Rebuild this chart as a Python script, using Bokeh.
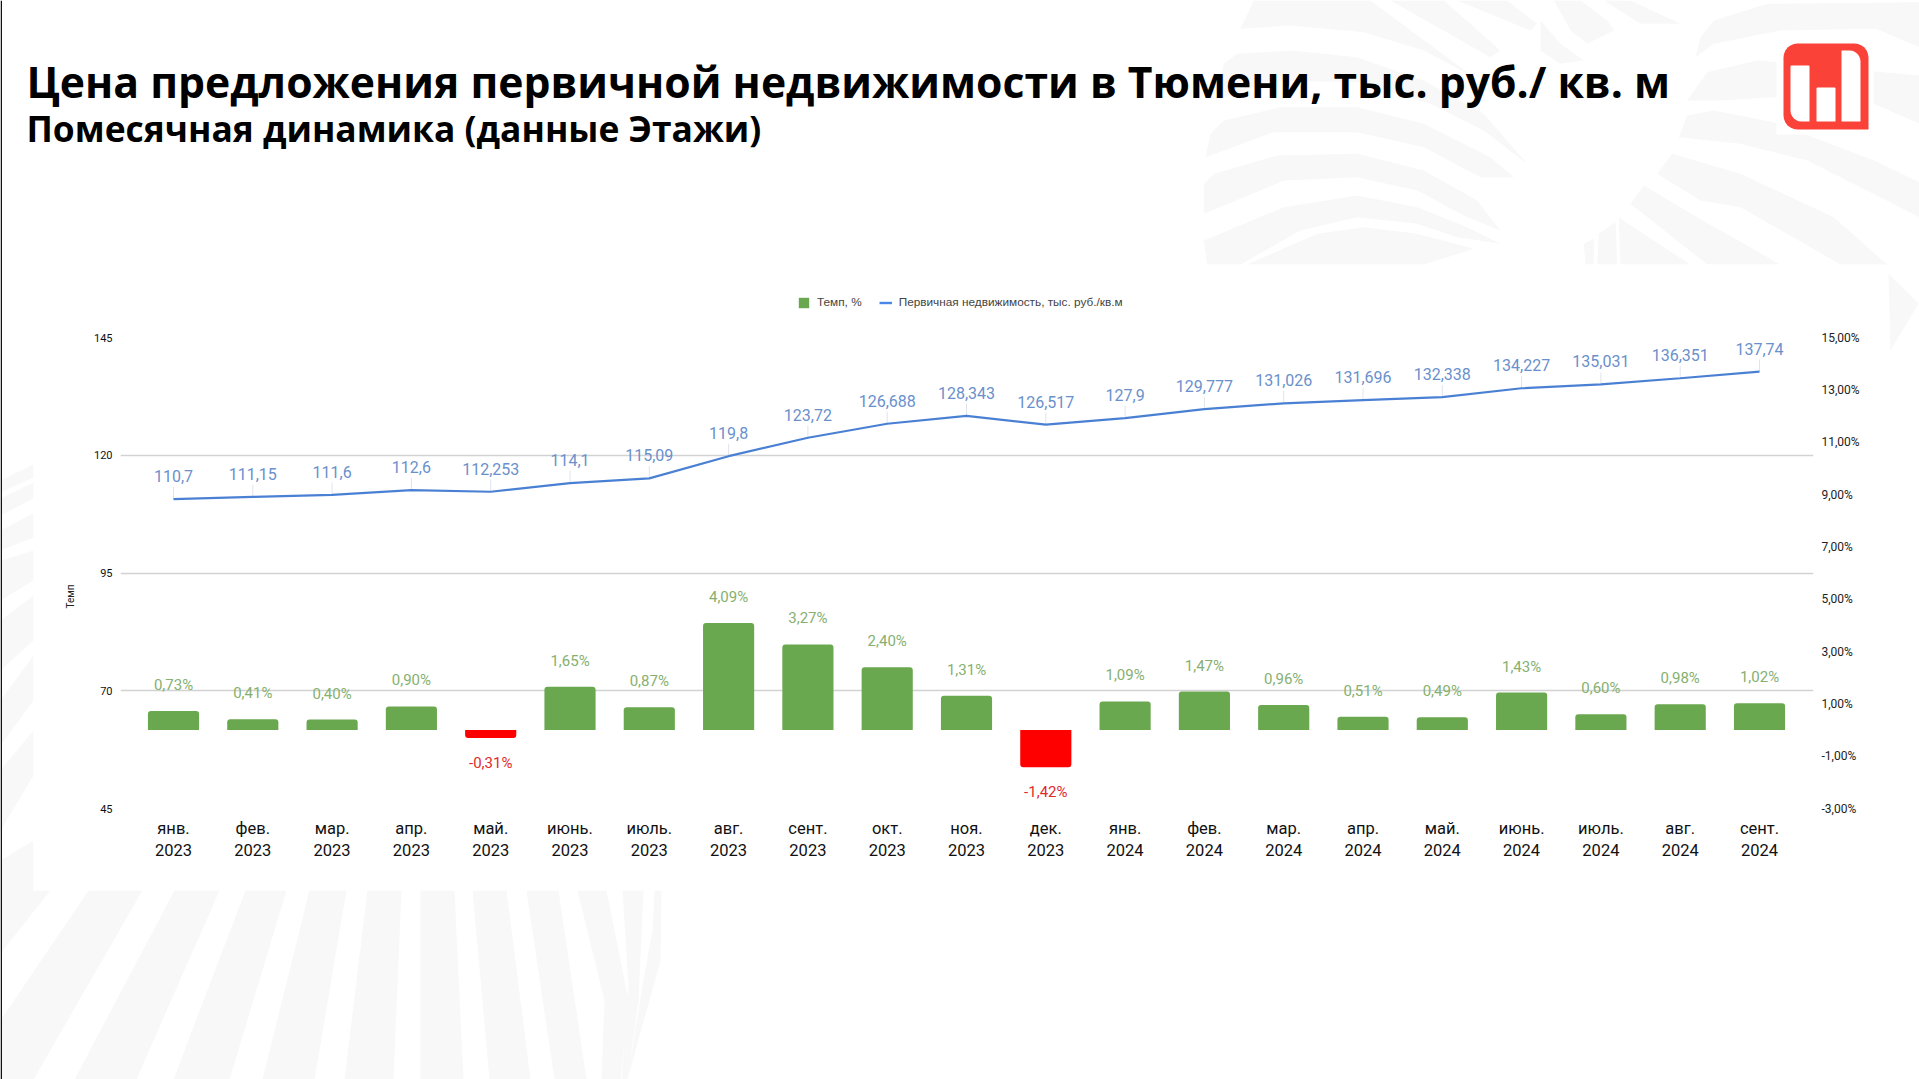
import math
from bokeh.plotting import figure
from bokeh.layouts import column
from bokeh.embed import file_html
from bokeh.resources import INLINE
from bokeh.core.properties import value
from bokeh.models import (ColumnDataSource, FixedTicker, LinearAxis, Range1d, Legend, LegendItem)

# ---- data ----
months = ["янв.", "фев.", "мар.", "апр.", "май.", "июнь.", "июль.", "авг.", "сент.", "окт.", "ноя.", "дек.",
          "янв.", "фев.", "мар.", "апр.", "май.", "июнь.", "июль.", "авг.", "сент."]
years = [2023] * 12 + [2024] * 9
price = [110.7, 111.15, 111.6, 112.6, 112.253, 114.1, 115.09, 119.8, 123.72, 126.688, 128.343, 126.517,
         127.9, 129.777, 131.026, 131.696, 132.338, 134.227, 135.031, 136.351, 137.74]
rate = [0.73, 0.41, 0.40, 0.90, -0.31, 1.65, 0.87, 4.09, 3.27, 2.40, 1.31, -1.42,
        1.09, 1.47, 0.96, 0.51, 0.49, 1.43, 0.60, 0.98, 1.02]
left_ticks = [45, 70, 95, 120, 145]
right_ticks = [-3, -1, 1, 3, 5, 7, 9, 11, 13, 15]

# ---- layout (page pixels) ----
W, H = 1919, 1079
FL, FR, FT, FB = 120, 1813, 337, 808
X0, STEP = 173.0, 79.3
GREEN, RED, BLUE = "#6aa84f", "#ff0000", "#4a80d4"
PALE = "#f8f8f8"

# ---- backdrop figure: its frame is the whole page, in page pixels ----
bg = figure(width=W, height=H, output_backend="svg", toolbar_location=None, frame_align=False,
            x_range=Range1d(0, W), y_range=Range1d(H, 0), min_border=0,
            x_axis_location=None, y_axis_location=None,
            background_fill_color="white", border_fill_color="white", outline_line_color=None)
bg.grid.visible = False


def poly(pts, color=PALE):
    bg.patch([a for a, _ in pts], [b for _, b in pts], fill_color=color, line_color=None)


def z11(pts):
    return [(1190 + a / 3, b / 3) for a, b in pts]


def z12(pts):
    return [(1540 + a / 3, b / 3) for a, b in pts]


def rounded(x0, y0, x1, y1, radii):
    pts = []
    for cx, cy, r, a0 in ((x0 + radii[0], y0 + radii[0], radii[0], 180), (x1 - radii[1], y0 + radii[1], radii[1], 270),
                          (x1 - radii[2], y1 - radii[2], radii[2], 0), (x0 + radii[3], y1 - radii[3], radii[3], 90)):
        for k in range(7):
            t = math.radians(a0 + 15 * k)
            pts.append((cx + r * math.cos(t), cy + r * math.sin(t)))
    return pts


for band in [
    [(150, 85), (190, 0), (540, 0), (850, 230), (700, 150), (520, 95), (300, 75)],
    [(100, 190), (140, 160), (300, 150), (500, 170), (700, 240), (880, 340), (1010, 490), (880, 390), (720, 310), (500, 245), (240, 240), (75, 300)],
    [(60, 400), (100, 360), (270, 320), (500, 320), (700, 370), (900, 470), (970, 530), (870, 530), (700, 440), (500, 395), (250, 395), (45, 470)],
    [(40, 550), (70, 520), (260, 465), (500, 460), (700, 510), (860, 600), (930, 690), (830, 650), (680, 570), (500, 530), (280, 540), (40, 640)],
    [(40, 720), (280, 620), (500, 585), (680, 620), (830, 680), (930, 730), (800, 710), (680, 670), (500, 650), (330, 690), (150, 792), (50, 792)],
    [(170, 792), (380, 700), (520, 680), (680, 700), (850, 745), (700, 792)],
    [(600, 0), (760, 0), (930, 150), (900, 170)],
    [(800, 0), (950, 0), (1040, 70), (1020, 90)],
]:
    poly(z11(band))
for band in [
    [(0, 60), (60, 130), (130, 180), (60, 190), (0, 150)],
    [(40, 0), (120, 0), (200, 60), (220, 90), (140, 130), (90, 90)],
    [(190, 0), (270, 0), (420, 70), (300, 70)],
    [(465, 170), (480, 110), (520, 60), (680, 10), (1137, 5), (1137, 140), (1005, 85), (720, 90), (520, 130)],
    [(440, 300), (500, 215), (650, 180), (1137, 225), (1137, 370), (1000, 310), (700, 290), (540, 300)],
    [(415, 410), (440, 345), (520, 330), (700, 365), (1000, 480), (1137, 545), (1137, 650), (800, 480), (600, 430)],
    [(350, 520), (395, 460), (600, 520), (880, 650), (1040, 792), (900, 792), (600, 620), (480, 600)],
    [(270, 610), (310, 555), (470, 650), (720, 792), (500, 792)],
    [(235, 650), (340, 720), (450, 792), (240, 792)],
    [(175, 700), (225, 665), (230, 792), (170, 792)],
    [(130, 730), (160, 715), (160, 792), (135, 792)],
]:
    poly(z12(band))
poly([(1888, 273), (1918, 303), (1890, 350)])
for band in [
    [(0, 480), (33, 464), (33, 477), (0, 492)], [(0, 498), (33, 482), (33, 498), (0, 515)],
    [(0, 530), (33, 513), (33, 537), (0, 550)], [(0, 560), (33, 550), (33, 580), (0, 600)],
    [(0, 620), (33, 595), (33, 640), (0, 670)], [(0, 700), (33, 655), (33, 700), (0, 745)],
    [(0, 770), (33, 730), (33, 775), (0, 830)], [(0, 860), (33, 840), (33, 890), (0, 950)],
]:
    poly(band)
poly([(0, 890), (50, 890), (0, 953)])
poly([(88, 890), (142, 890), (33, 1079), (0, 1079), (0, 1020)])
for top_l, top_r, bot_l, bot_r in [(174, 219, 74, 136), (245, 286, 173, 229), (309, 346, 262, 314), (367, 401, 344, 393),
                                   (420, 454, 420, 463), (472, 506, 489, 530), (526, 558, 554, 586)]:
    poly([(top_l, 890), (top_r, 890), (bot_r, 1079), (bot_l, 1079)])
poly([(577, 890), (606, 890), (628, 1000), (620, 1079), (601, 1079), (604, 1000)])
poly([(622, 890), (643, 890), (638, 1000), (627, 1079), (621, 1079), (628, 985)])
poly([(654, 890), (661, 890), (660, 960), (627, 1079), (642, 985), (652, 930)])
poly([(33, 264), (1880, 264), (1880, 890), (33, 890)], "#ffffff")
poly([(0, 0), (1.5, 0), (1.5, 1079), (0, 1079)], "#111111")

poly([(1776, 35), (1873, 35), (1873, 134), (1776, 134)], "#ffffff")
poly(rounded(1783, 43, 1868, 129, (14, 14, 0, 14)), "#fa4239")
poly(rounded(1790, 65, 1809, 121, (1, 1, 0, 11)), "#ffffff")
poly(rounded(1816, 87, 1835, 121, (1, 1, 0, 0)), "#ffffff")
poly(rounded(1841, 50, 1860, 121, (0, 11, 0, 0)), "#ffffff")

bg.text([26], [81], text=["Цена предложения первичной недвижимости в Тюмени, тыс. руб./ кв. м"],
        text_font=value("Open Sans"), text_font_style="bold", text_font_size="42.7px", text_color="#000000",
        text_baseline="alphabetic")
bg.text([26], [127], text=["Помесячная динамика (данные Этажи)"],
        text_font=value("Open Sans"), text_font_style="bold", text_font_size="35.4px", text_color="#000000",
        text_baseline="alphabetic")
bg.text([70], [596], text=["Темп"], angle=math.pi / 2, text_font=value("Roboto"), text_font_size="10px",
        text_color="#222222", text_align="center", text_baseline="middle")

# legend keys: the two renderers sit off the page, only their legend keys show
swatch_bar = bg.vbar([-50], 1, [-50], [-49], fill_color=GREEN, line_color=None)
swatch_line = bg.line([-50, -49], [-50, -50], line_color="#4a86e8", line_width=2.4)
legend = Legend(items=[LegendItem(label="Темп, %", renderers=[swatch_bar]),
                       LegendItem(label="Первичная недвижимость, тыс. руб./кв.м", renderers=[swatch_line])],
                orientation="horizontal", location=(797, H - 309),
                border_line_color=None, background_fill_color=None, padding=0, margin=0,
                glyph_width=13, glyph_height=13, label_height=13, label_standoff=7, spacing=17,
                label_text_font="Liberation Sans", label_text_font_size="11.8px", label_text_color="#444444",
                click_policy="none")
bg.add_layout(legend, "center")

# ---- chart figure, laid over the backdrop ----
p = figure(width=W, height=H, margin=(-H, 0, 0, 0), output_backend="svg", toolbar_location=None, frame_align=False,
           x_range=Range1d((FL - X0) / STEP, (FR - X0) / STEP), y_range=Range1d(45, 145),
           min_border_left=FL, min_border_right=W - FR, min_border_top=FT, min_border_bottom=H - FB,
           background_fill_color=None, border_fill_color=None, outline_line_color=None)
p.extra_y_ranges = {"pct": Range1d(-3, 15)}

xs = list(range(len(months)))
pos = ColumnDataSource(dict(x=[i for i in xs if rate[i] >= 0], t=[rate[i] for i in xs if rate[i] >= 0]))
neg = ColumnDataSource(dict(x=[i for i in xs if rate[i] < 0], t=[rate[i] for i in xs if rate[i] < 0]))
BW = 0.645
p.vbar("x", BW, 0, "t", source=pos, y_range_name="pct", fill_color=GREEN, line_color=None,
       border_radius=(3, 3, 0, 0))
p.vbar("x", BW, 0, "t", source=neg, y_range_name="pct", fill_color=RED, line_color=None,
       border_radius=(0, 0, 3, 3))

p.segment(xs, price, xs, [v + 2.6 for v in price], line_color="#dfe4ee", line_width=1)
p.line(xs, price, line_color=BLUE, line_width=2.2)

p.text(xs, price, text=[str(v).replace(".", ",") for v in price], y_offset=-23,
       text_font=value("Roboto"), text_font_size="16px", text_color="#6a90cc",
       text_align="center", text_baseline="middle")


def pct(v):
    return f"{v:.2f}".replace(".", ",") + "%"


p.text(pos.data["x"], pos.data["t"], text=[pct(v) for v in pos.data["t"]], y_offset=-26, y_range_name="pct",
       text_font=value("Roboto"), text_font_size="15px", text_color="#86b070",
       text_align="center", text_baseline="middle")
p.text(neg.data["x"], neg.data["t"], text=[pct(v) for v in neg.data["t"]], y_offset=25, y_range_name="pct",
       text_font=value("Roboto"), text_font_size="15px", text_color="#e02a2a",
       text_align="center", text_baseline="middle")

p.xaxis.ticker = FixedTicker(ticks=xs)
p.xaxis.major_label_overrides = {i: f"{months[i]}\n{years[i]}" for i in xs}
p.xaxis.major_label_text_font = "Roboto"
p.xaxis.major_label_text_font_size = "16.5px"
p.xaxis.major_label_text_color = "#111111"
p.xaxis.major_label_standoff = 4
p.xaxis.axis_line_color = None
p.xaxis.major_tick_line_color = None
p.xaxis.minor_tick_line_color = None
p.xgrid.visible = False

p.yaxis.ticker = FixedTicker(ticks=left_ticks)
p.yaxis.major_label_text_font = "Roboto"
p.yaxis.major_label_text_font_size = "11px"
p.yaxis.major_label_text_color = "#111111"
p.yaxis.major_label_standoff = 2
p.yaxis.axis_line_color = None
p.yaxis.major_tick_line_color = None
p.yaxis.minor_tick_line_color = None
p.ygrid.ticker = FixedTicker(ticks=left_ticks)
p.ygrid.grid_line_color = "#d2d2d2"
p.ygrid.grid_line_width = 1.4

right = LinearAxis(y_range_name="pct", ticker=FixedTicker(ticks=right_ticks),
                   major_label_overrides={t: f"{t},00%" for t in right_ticks},
                   major_label_text_font="Roboto", major_label_text_font_size="12px",
                   major_label_text_color="#222222", major_label_standoff=2,
                   axis_line_color=None, major_tick_line_color=None, minor_tick_line_color=None)
p.add_layout(right, "right")

root = column(bg, p, spacing=0)
open("out.html", "w").write(file_html(root, INLINE))
